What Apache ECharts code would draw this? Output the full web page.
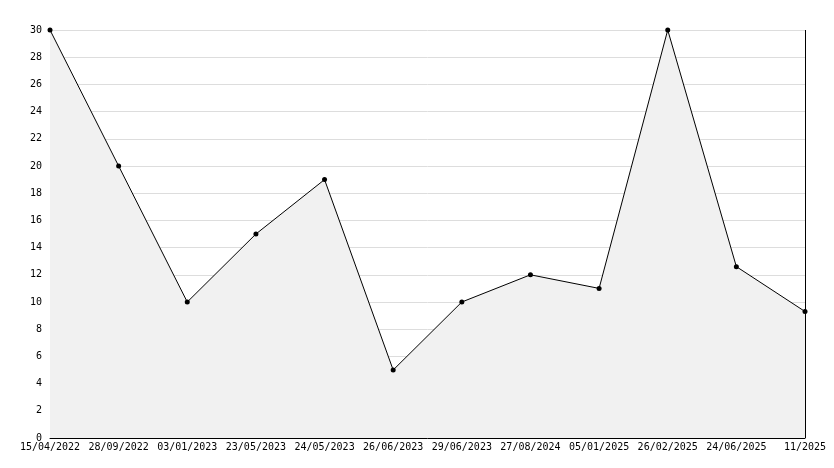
<!DOCTYPE html>
<html>
<head>
<meta charset="utf-8">
<script src="https://cdn.jsdelivr.net/npm/echarts@6/dist/echarts.min.js"></script>
<style>
body { margin: 0; background: #fff; }
#chart { width: 834px; height: 468px; }
</style>
</head>
<body>
<div id="chart"></div>
<script>
var dates = ['15/04/2022', '28/09/2022', '03/01/2023', '23/05/2023', '24/05/2023', '26/06/2023',
	'29/06/2023', '27/08/2024', '05/01/2025', '26/02/2025', '24/06/2025', '11/2025'];
var values = [30, 20, 10, 15, 19, 5, 10, 12, 11, 30, 12.6, 9.3];

var font = { fontFamily: 'DejaVu Sans Mono', fontSize: 10, color: '#000' };

var option = {
	animation: false,
	grid: { left: 50, right: 29, top: 30, bottom: 30 },
	xAxis: {
		type: 'category',
		data: dates,
		boundaryGap: false,
		axisLine: { lineStyle: { color: '#000' } },
		axisTick: { inside: true, length: 5, lineStyle: { color: '#000' } },
		axisLabel: Object.assign({ interval: 0, margin: 4 }, font),
		splitLine: { show: false }
	},
	yAxis: {
		type: 'value',
		min: 0, max: 30, interval: 2,
		axisLine: { show: true, lineStyle: { color: '#000' } },
		axisTick: { inside: true, length: 5, lineStyle: { color: '#000' } },
		minorTick: { show: true, splitNumber: 2, length: 3, lineStyle: { color: '#000' } },
		axisLabel: Object.assign({ margin: 8 }, font),
		splitLine: { lineStyle: { color: '#dddddd' } }
	},
	series: [{
		type: 'line',
		data: values,
		symbol: 'circle',
		symbolSize: 5,
		itemStyle: { color: '#000' },
		lineStyle: { color: '#000', width: 1 },
		areaStyle: { color: '#f1f1f1', opacity: 1 },
		markLine: {
			silent: true, symbol: 'none', label: { show: false },
			lineStyle: { color: '#000', width: 1, type: 'solid' },
			data: [{ xAxis: dates[dates.length - 1] }]
		}
	}]
};

var chart = echarts.init(document.getElementById('chart'));
chart.setOption(option);
</script>
</body>
</html>
